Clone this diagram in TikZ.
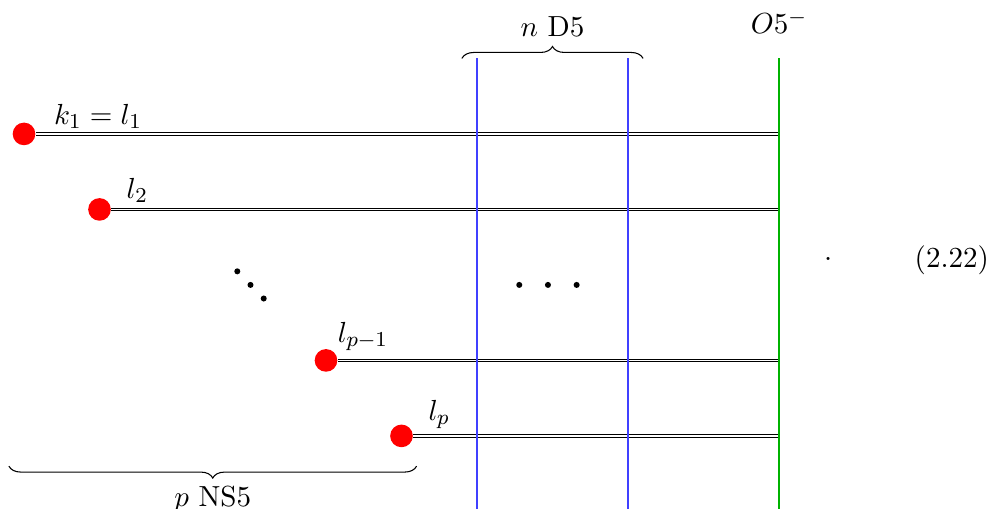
\documentclass[11pt,tikz,border=0pt]{standalone}
\usepackage{amsmath}
\usepackage{tikz}
\usetikzlibrary{positioning, calc, decorations.pathreplacing}

\begin{document}
\begin{tikzpicture}[
	ns5/.style={double},
	dfive/.style={blue!75},
	ofive/.style={green!70!black},
	brane/.style={circle, fill=red, inner sep=0pt, minimum size=0.3cm},
	bracedeco/.style={decorate, decoration={brace, amplitude=4.5pt}},
	lab/.style={anchor=base}
]
\useasboundingbox (-0.318,-4.955) rectangle (12.795,1.774);
% ends of the NS5 branes
\node[brane] (d1) at (0,0) {};
\node[brane] (d2) at (1,-1) {};
\node[brane] (d3) at (4,-3) {};
\node[brane] (d4) at (5,-4) {};
% D5 and O5 lines
\coordinate (dl) at (6,1);
\coordinate (dr) at (8,1);
\coordinate (o5top) at (10,1);
\coordinate (o5bot) at (10,-5);
\foreach \d in {d1,d2,d3,d4}
	\draw[ns5] (\d) -- (\d -| o5top);
\draw[dfive] (dl) -- (dl |- o5bot);
\draw[dfive] (dr) -- (dr |- o5bot);
\draw[ofive] (o5top) -- (o5bot);
% labels
\node[lab] (lk) at ($(d1)+(0.98,0.13)$) {$k_1 = l_1$};
\node[lab] (l2) at ($(d2)+(0.5,0.15)$) {$l_2$};
\node[lab] (lq) at ($(d3)+(0.49,0.24)$) {$l_{p-1}$};
\node[lab] (lp) at ($(d4)+(0.5,0.21)$) {$l_p$};
\node[above=5.5pt of o5top] (o5lab) {$O5^-$};
% dots
\foreach \i in {-1,0,1} {
	\fill (3+0.175*\i,-2-0.18*\i) circle (0.04);
	\fill (6.94+0.38*\i,-2) circle (0.04);
}
% braces
\draw[bracedeco] ($(dl)+(-0.2,0)$) -- node[midway, above=4pt] (dlab) {$n$ D5} ($(dr)+(0.2,0)$);
\draw[bracedeco] ($(d4)+(0.2,-0.4)$) -- node[midway, below=3.5pt] (nslab) {$p$ NS5} ($(d1)+(-0.2,-4.4)$);
% end of the display
\node[lab] (stop) at (10.65,-1.68) {.};
\node[lab] (eqno) at (12.29,-1.775) {(2.22)};
\end{tikzpicture}
\end{document}
